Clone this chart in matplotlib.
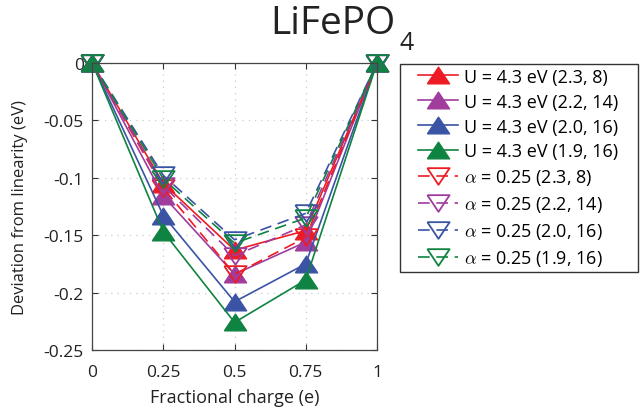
import matplotlib.pyplot as plt
from matplotlib.patches import Rectangle

plt.rcParams['font.family'] = ['Open Sans', 'DejaVu Sans']
plt.rcParams['mathtext.fontset'] = 'cm'

charge = [0, 0.25, 0.5, 0.75, 1]

# Hubbard U runs (filled up-triangles, solid lines)
u_23_8 = [0, -0.105, -0.163, -0.146, 0]
u_22_14 = [0, -0.116, -0.184, -0.156, 0]
u_20_16 = [0, -0.133, -0.208, -0.175, 0]
u_19_16 = [0, -0.147, -0.226, -0.189, 0]

# alpha = 0.25 runs (open down-triangles, dashed lines)
a_23_8 = [0, -0.109, -0.184, -0.152, 0]
a_22_14 = [0, -0.107, -0.168, -0.141, 0]
a_20_16 = [0, -0.098, -0.154, -0.131, 0]
a_19_16 = [0, -0.101, -0.157, -0.135, 0]

u_labels = ['U = 4.3 eV (2.3, 8)', 'U = 4.3 eV (2.2, 14)',
            'U = 4.3 eV (2.0, 16)', 'U = 4.3 eV (1.9, 16)']
a_labels = [r'$\alpha$ = 0.25 (2.3, 8)', r'$\alpha$ = 0.25 (2.2, 14)',
            r'$\alpha$ = 0.25 (2.0, 16)', r'$\alpha$ = 0.25 (1.9, 16)']
colors = ['#ED1C24', '#A03C9E', '#3A53A4', '#0F8341']

xticks = [0, 0.25, 0.5, 0.75, 1]
xticklabels = ['0', '0.25', '0.5', '0.75', '1']
yticks = [0, -0.05, -0.1, -0.15, -0.2, -0.25]
yticklabels = ['0', '-0.05', '-0.1', '-0.15', '-0.2', '-0.25']

# wide, squat triangles
tri_up = [(-1, -0.75), (1, -0.75), (0, 0.75), (-1, -0.75)]
tri_down = [(-1, 0.75), (1, 0.75), (0, -0.75), (-1, 0.75)]

fig = plt.figure(figsize=(6.4, 4.1), dpi=100)
ax = fig.add_axes([0.144, 0.144, 0.445, 0.700])

for y, lab, c in zip([u_23_8, u_22_14, u_20_16, u_19_16], u_labels, colors):
    ax.plot(charge, y, '-', color=c, lw=1.2, marker=tri_up, ms=16,
            mfc=c, mec=c, label=lab, clip_on=False)
for y, lab, c in zip([a_23_8, a_22_14, a_20_16, a_19_16], a_labels, colors):
    ax.plot(charge, y, '--', color=c, lw=1.2, marker=tri_down, ms=16,
            mfc='none', mec=c, mew=1.3, label=lab, clip_on=False,
            dashes=(7, 4))

ax.set_xlim(0, 1)
ax.set_ylim(-0.25, 0)
ax.set_xticks(xticks)
ax.set_xticklabels(xticklabels)
ax.set_yticks(yticks)
ax.set_yticklabels(yticklabels)
ax.tick_params(direction='in', length=4, top=True, right=True,
               labelsize=12.5, colors='#333333', labelcolor='#222222')
ax.tick_params(axis='x', pad=10)
ax.tick_params(axis='y', pad=6)
ax.grid(True, ls=(0, (1, 4)), color='#cccccc', lw=0.9)
ax.set_axisbelow(True)
for s in ax.spines.values():
    s.set_color('#444444')
    s.set_linewidth(0.9)

ax.set_xlabel('Fractional charge (e)', fontsize=13, color='#222222',
              labelpad=6)
ax.set_ylabel('Deviation from linearity (eV)', fontsize=12, color='#222222',
              labelpad=11)

fig.text(396 / 640, 1 - 34 / 410, 'LiFePO', fontsize=28, ha='right',
         va='baseline', color='#222222')
fig.text(399 / 640, 1 - 50 / 410, '4', fontsize=18, ha='left',
         va='baseline', color='#222222')

leg = ax.legend(loc='upper left', bbox_to_anchor=(416 / 640, 1 - 67 / 410),
                bbox_transform=fig.transFigure, fontsize=13, frameon=False,
                handlelength=2.25, labelspacing=0.38, borderpad=0.1,
                handletextpad=0.3, borderaxespad=0)
fig.add_artist(Rectangle((400 / 640, 1 - 273 / 410), 238 / 640, 208 / 410,
                         transform=fig.transFigure, fill=False,
                         ec='#333333', lw=1.0))

fig.savefig('out.png', dpi=100)
